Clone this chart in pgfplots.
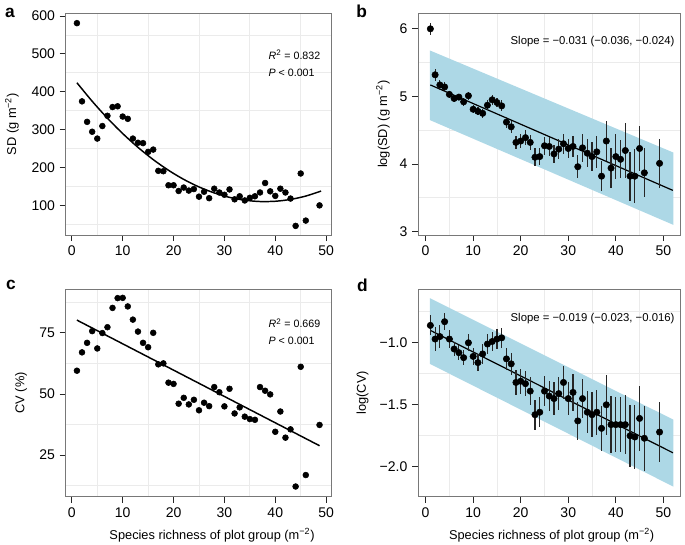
\documentclass[border=0pt]{standalone}
\usepackage{pgfplots}
\pgfplotsset{compat=1.18}
\usepackage{pgfplotstable}
\usepackage{fontspec}
\setmainfont{Liberation Sans}

\definecolor{bandblue}{RGB}{173,216,230}
\definecolor{boxgray}{RGB}{120,120,120}

% panel a / c : mean SD and CV per richness level
\pgfplotstableread{
x    sd   cv
1    581  59.5
2    375  67.0
3    321  70.9
4    295  75.7
5    277  68.6
6    310  74.9
7    337  77.3
8    360  85.2
9    362  89.2
10   335  89.3
11   329  85.8
12   277  80.4
13   266  75.5
14   265  70.9
15   242  69.1
16   248  75.0
17   192  62.1
18   191  62.5
19   154  54.6
20   154  54.1
21   139  46.0
22   148  48.4
23   140  45.7
24   144  47.6
25   124  43.3
26   137  46.4
27   120  45.0
28   145  52.8
29   135  50.7
30   129  44.9
31   143  52.1
32   117  42.0
33   125  44.5
34   114  40.7
35   121  39.7
36   125  39.4
37   135  52.8
38   160  51.3
39   138  49.8
40   126  34.5
41   145  42.8
42   135  32.1
43   119  35.5
44   47   12.1
45   185  61.1
46   61   16.8
48.7 101  37.3
}\rawdata

% panel b : log(SD) with interval
\pgfplotstableread{
x    y     e
1    6.00  0.085
2    5.32  0.09
3    5.17  0.08
4    5.14  0.07
5    5.03  0.05
6    4.97  0.05
7    4.99  0.05
8    4.92  0.06
9    5.01  0.06
10   4.81  0.06
11   4.78  0.06
12   4.75  0.07
13   4.87  0.07
14   4.95  0.07
15   4.91  0.07
16   4.86  0.08
17   4.62  0.08
18   4.55  0.09
19   4.32  0.10
20   4.34  0.11
21   4.39  0.11
22   4.32  0.11
23   4.10  0.13
24   4.11  0.13
25   4.27  0.13
26   4.26  0.14
27   4.15  0.13
28   4.22  0.15
29   4.30  0.15
30   4.23  0.14
31   4.26  0.15
32   3.96  0.17
33   4.24  0.21
34   4.16  0.21
35   4.11  0.22
36   4.18  0.24
37   3.82  0.22
38   4.34  0.30
39   3.94  0.29
40   4.11  0.33
41   4.07  0.28
42   4.20  0.40
43   3.82  0.36
44   3.82  0.40
45   4.23  0.33
46   3.87  0.36
49.2 4.01  0.36
}\logsd

% panel d : log(CV) with interval
\pgfplotstableread{
x    y      e
1    -0.86  0.08
2    -0.97  0.10
3    -0.95  0.09
4    -0.83  0.07
5    -0.97  0.07
6    -1.05  0.06
7    -1.08  0.06
8    -1.12  0.06
9    -1.00  0.07
10   -1.11  0.07
11   -1.16  0.07
12   -1.09  0.08
13   -1.01  0.08
14   -0.99  0.08
15   -0.97  0.08
16   -0.96  0.08
17   -1.13  0.09
18   -1.17  0.09
19   -1.32  0.10
20   -1.31  0.10
21   -1.33  0.10
22   -1.39  0.11
23   -1.58  0.12
24   -1.56  0.12
25   -1.39  0.12
26   -1.43  0.12
27   -1.45  0.13
28   -1.41  0.13
29   -1.32  0.13
30   -1.45  0.13
31   -1.40  0.15
32   -1.63  0.15
33   -1.45  0.16
34   -1.56  0.17
35   -1.58  0.18
36   -1.56  0.18
37   -1.69  0.18
38   -1.50  0.24
39   -1.66  0.23
40   -1.66  0.22
41   -1.66  0.22
42   -1.66  0.24
43   -1.75  0.25
44   -1.76  0.26
45   -1.61  0.26
46   -1.77  0.26
49.2 -1.72  0.24
}\logcv

\pgfplotsset{
  panel/.style={
    scale only axis,
    axis line style={boxgray, line width=0.6pt},
    tick pos=left,
    tick align=outside,
    major tick length=4.5pt,
    major tick style={black!85, line width=0.6pt},
    minor tick length=0pt,
    xminorgrids, yminorgrids,
    minor grid style={black!8, line width=0.6pt},
    tick label style={font=\fontsize{10.5}{12}\selectfont},
    label style={font=\fontsize{9.6}{11}\selectfont},
    /pgf/number format/assume math mode=true,
    xtick={0,10,...,50},
  },
  dots/.style={only marks, mark=*, mark size=2.2pt, black},
  ebar/.style={only marks, mark=*, mark size=2.4pt, black,
    error bars/.cd, y dir=both, y explicit,
    error mark=none, error bar style={black!85, line width=0.9pt}},
}
\tikzset{note/.style={font=\fontsize{8}{9.5}\selectfont},
  slope/.style={font=\fontsize{8.5}{10}\selectfont}}

\begin{document}
\begin{tikzpicture}
\useasboundingbox (0,0) rectangle (513.75pt,-408pt);

% ---- a ----
\begin{axis}[panel, at={(49.3pt,-176.25pt)}, anchor=south west,
  width=199.5pt, height=166.3pt,
  xmin=-1.2, xmax=51.1, ymin=23, ymax=607,
  ytick={100,200,...,600},
  minor xtick={5,15,...,45}, minor ytick={50,150,...,550},
  ylabel={SD (g m\textsuperscript{−2})},
  ylabel style={at={(axis description cs:-0.202,0.5)}, anchor=center},
]
\addplot[black, line width=1.1pt, smooth] coordinates {
  (1,424) (4,375.3) (7,330.7) (10,290.2) (13,253.9) (16,221.6) (19,193.5)
  (22,169.5) (25,149.6) (28,133.9) (31,122.2) (34,114.7) (37,111.2)
  (40,111.9) (43,116.7) (46,125.6) (49,138.7)};
\addplot[dots] table[x=x, y=sd] {\rawdata};
\node[note, anchor=west] at (axis description cs:0.745,0.812) {\textit{R}\textsuperscript{2} = 0.832};
\node[note, anchor=west] at (axis description cs:0.745,0.732) {\textit{P} < 0.001};
\end{axis}

% ---- b ----
\begin{axis}[panel, at={(313.5pt,-176.25pt)}, anchor=south west,
  width=196.5pt, height=166.3pt,
  xmin=-1.6, xmax=53.5, ymin=2.95, ymax=6.23,
  ytick={3,4,5,6},
  minor xtick={5,15,...,45}, minor ytick={3.5,4.5,5.5},
  ylabel={log(SD) (g m\textsuperscript{−2})},
  ylabel style={at={(axis description cs:-0.134,0.5)}, anchor=center},
]
\addplot[fill=bandblue, draw=none] coordinates {
  (0.9,5.68) (52.1,4.17) (52.1,3.10) (0.9,4.65)} -- cycle;
\addplot[black, line width=0.9pt] coordinates {(1,5.17) (52,3.61)};
\addplot[ebar] table[x=x, y=y, y error=e] {\logsd};
\node[slope, anchor=east] at (axis description cs:0.997,0.871) {Slope = −0.031 (−0.036, −0.024)};
\end{axis}

% ---- c ----
\begin{axis}[panel, at={(49.3pt,-372.4pt)}, anchor=south west,
  width=199.5pt, height=155.6pt,
  xmin=-1.2, xmax=51.1, ymin=8.0, ymax=92.9,
  ytick={25,50,75},
  minor xtick={5,15,...,45}, minor ytick={12.5,37.5,62.5,87.5},
  ylabel={CV (\%)},
  ylabel style={at={(axis description cs:-0.168,0.5)}, anchor=center},
  xlabel={Species richness of plot group (m\textsuperscript{−2})},
  xlabel style={at={(axis description cs:0.55,-0.186)}, anchor=center},
]
\addplot[black, line width=1.1pt] coordinates {(1,80.2) (48.7,28.8)};
\addplot[dots] table[x=x, y=cv] {\rawdata};
\node[note, anchor=west] at (axis description cs:0.745,0.835) {\textit{R}\textsuperscript{2} = 0.669};
\node[note, anchor=west] at (axis description cs:0.745,0.751) {\textit{P} < 0.001};
\end{axis}

% ---- d ----
\begin{axis}[panel, at={(313.5pt,-372.4pt)}, anchor=south west,
  width=196.5pt, height=155.6pt,
  xmin=-1.6, xmax=53.5, ymin=-2.24, ymax=-0.567,
  ytick={-2,-1.5,-1}, yticklabels={−2.0,−1.5,−1.0},
  minor xtick={5,15,...,45}, minor ytick={-2.25,-1.75,-1.25,-0.75},
  ylabel={log(CV)},
  ylabel style={at={(axis description cs:-0.212,0.5)}, anchor=center},
  xlabel={Species richness of plot group (m\textsuperscript{−2})},
  xlabel style={at={(axis description cs:0.51,-0.186)}, anchor=center},
]
\addplot[fill=bandblue, draw=none] coordinates {
  (0.9,-0.64) (52.1,-1.62) (52.1,-2.16) (0.9,-1.17)} -- cycle;
\addplot[black, line width=0.9pt] coordinates {(1,-0.90) (52,-1.887)};
\addplot[ebar] table[x=x, y=y, y error=e] {\logcv};
\node[slope, anchor=east] at (axis description cs:0.997,0.859) {Slope = −0.019 (−0.023, −0.016)};
\end{axis}

% panel letters
\node[anchor=base, font=\fontsize{13}{13}\selectfont\bfseries] at (7.5pt,-12.75pt) {a};
\node[anchor=base, font=\fontsize{13}{13}\selectfont\bfseries] at (271.3pt,-12.75pt) {b};
\node[anchor=base, font=\fontsize{13}{13}\selectfont\bfseries] at (8.25pt,-216.75pt) {c};
\node[anchor=base, font=\fontsize{13}{13}\selectfont\bfseries] at (271.9pt,-218.8pt) {d};
\end{tikzpicture}
\end{document}
